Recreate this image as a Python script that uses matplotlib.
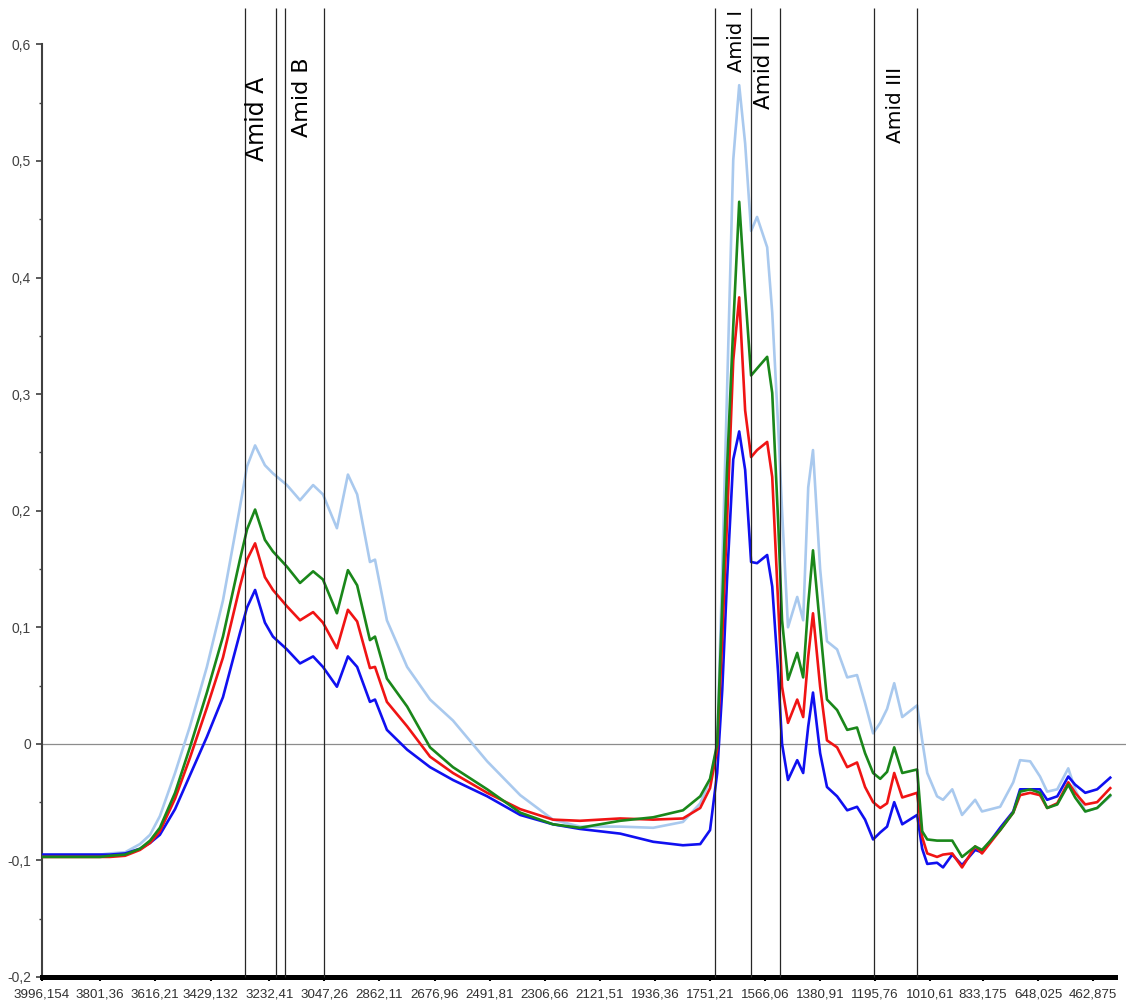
import matplotlib
matplotlib.use("Agg")
import matplotlib.pyplot as plt
from matplotlib.ticker import FixedLocator, MultipleLocator

plt.rcParams['font.family'] = ['Liberation Sans', 'DejaVu Sans']

# wavenumber, cm-1
wavenumber = [3996, 3801, 3768, 3717, 3667, 3633, 3600, 3549, 3499, 3442,
              3388, 3331, 3307, 3280, 3247, 3220, 3173, 3129, 3085, 3052,
              3005, 2968, 2937, 2894, 2877, 2837, 2769, 2692, 2615, 2500,
              2389, 2279, 2188, 2053, 1942, 1842, 1784, 1751, 1727, 1710,
              1694, 1673, 1653, 1633, 1613, 1593, 1559, 1542, 1522, 1509,
              1489, 1458, 1438, 1421, 1405, 1381, 1358, 1324, 1290, 1257,
              1230, 1203, 1179, 1156, 1132, 1105, 1055, 1038, 1021, 988,
              968, 937, 904, 860, 837, 776, 732, 709, 675, 642,
              618, 584, 547, 524, 490, 450, 406]

spec_lightblue = [-0.095, -0.095, -0.094, -0.093, -0.086, -0.078, -0.062, -0.025, 0.015, 0.066,
                  0.123, 0.203, 0.238, 0.256, 0.239, 0.232, 0.222, 0.209, 0.222, 0.214,
                  0.185, 0.231, 0.214, 0.156, 0.158, 0.106, 0.066, 0.038, 0.020, -0.015,
                  -0.044, -0.065, -0.071, -0.071, -0.072, -0.067, -0.051, -0.031, -0.002, 0.150,
                  0.301, 0.501, 0.565, 0.515, 0.440, 0.452, 0.426, 0.370, 0.272, 0.200,
                  0.100, 0.126, 0.106, 0.220, 0.252, 0.150, 0.088, 0.081, 0.057, 0.059,
                  0.035, 0.009, 0.018, 0.030, 0.052, 0.023, 0.033, 0.003, -0.025, -0.045,
                  -0.048, -0.039, -0.061, -0.048, -0.058, -0.054, -0.033, -0.014, -0.015, -0.028,
                  -0.041, -0.039, -0.021, -0.039, -0.058, -0.055, -0.045]

spec_green = [-0.097, -0.097, -0.096, -0.095, -0.090, -0.083, -0.072, -0.042, -0.003, 0.044,
              0.092, 0.158, 0.184, 0.201, 0.175, 0.165, 0.152, 0.138, 0.148, 0.141,
              0.112, 0.149, 0.136, 0.089, 0.092, 0.056, 0.032, -0.003, -0.020, -0.039,
              -0.059, -0.069, -0.072, -0.066, -0.063, -0.057, -0.045, -0.030, 0.000, 0.120,
              0.235, 0.358, 0.465, 0.387, 0.316, 0.322, 0.332, 0.301, 0.190, 0.106,
              0.055, 0.078, 0.057, 0.120, 0.166, 0.100, 0.038, 0.029, 0.012, 0.014,
              -0.008, -0.025, -0.030, -0.024, -0.003, -0.025, -0.022, -0.075, -0.082, -0.083,
              -0.083, -0.083, -0.097, -0.088, -0.091, -0.074, -0.059, -0.041, -0.039, -0.042,
              -0.055, -0.052, -0.035, -0.046, -0.058, -0.055, -0.044]

spec_red = [-0.097, -0.097, -0.097, -0.096, -0.091, -0.085, -0.075, -0.047, -0.012, 0.031,
            0.074, 0.135, 0.158, 0.172, 0.143, 0.132, 0.118, 0.106, 0.113, 0.104,
            0.082, 0.115, 0.105, 0.065, 0.066, 0.036, 0.015, -0.011, -0.025, -0.042,
            -0.056, -0.065, -0.066, -0.064, -0.065, -0.064, -0.055, -0.038, -0.005, 0.090,
            0.190, 0.329, 0.383, 0.286, 0.246, 0.252, 0.259, 0.229, 0.120, 0.049,
            0.018, 0.038, 0.023, 0.075, 0.112, 0.049, 0.003, -0.003, -0.020, -0.016,
            -0.037, -0.050, -0.055, -0.051, -0.025, -0.046, -0.042, -0.080, -0.094, -0.097,
            -0.095, -0.094, -0.106, -0.088, -0.094, -0.074, -0.059, -0.044, -0.042, -0.044,
            -0.055, -0.051, -0.033, -0.042, -0.052, -0.050, -0.038]

spec_blue = [-0.095, -0.095, -0.095, -0.094, -0.090, -0.085, -0.078, -0.056, -0.027, 0.006,
             0.040, 0.095, 0.117, 0.132, 0.104, 0.092, 0.081, 0.069, 0.075, 0.066,
             0.049, 0.075, 0.066, 0.036, 0.038, 0.012, -0.005, -0.020, -0.031, -0.045,
             -0.061, -0.069, -0.073, -0.077, -0.084, -0.087, -0.086, -0.074, -0.025, 0.046,
             0.140, 0.244, 0.268, 0.235, 0.156, 0.155, 0.162, 0.135, 0.060, 0.000,
             -0.031, -0.014, -0.025, 0.015, 0.044, -0.008, -0.037, -0.045, -0.057, -0.054,
             -0.065, -0.082, -0.076, -0.071, -0.050, -0.069, -0.061, -0.090, -0.103, -0.102,
             -0.106, -0.095, -0.104, -0.091, -0.093, -0.072, -0.058, -0.039, -0.039, -0.039,
             -0.048, -0.045, -0.028, -0.035, -0.042, -0.039, -0.029]

tick_values = [3996.154, 3801.36, 3616.21, 3429.132, 3232.41, 3047.26, 2862.11,
               2676.96, 2491.81, 2306.66, 2121.51, 1936.36, 1751.21, 1566.06,
               1380.91, 1195.76, 1010.61, 833.175, 648.025, 462.875]
tick_labels = ["3996,154", "3801,36", "3616,21", "3429,132", "3232,41", "3047,26",
               "2862,11", "2676,96", "2491,81", "2306,66", "2121,51", "1936,36",
               "1751,21", "1566,06", "1380,91", "1195,76", "1010,61", "833,175",
               "648,025", "462,875"]

# borders of the amide bands
band_edges = [3314, 3210, 3179, 3047, 1734, 1613, 1516, 1200, 1055]
band_names = ["Amid A", "Amid B", "Amid I", "Amid II", "Amid III"]
band_centers = [3273, 3122, 1663, 1569, 1129]


def main():
    fig = plt.figure(figsize=(11.26, 10.01), dpi=100)
    ax = fig.add_axes([42 / 1126, 24 / 1001, 1073 / 1126, 932.6 / 1001])

    ax.axhline(0, color='#8c8c8c', lw=0.9, xmax=1.01, clip_on=False, zorder=1)

    ax.plot(wavenumber, spec_lightblue, color='#a9c9ee', lw=1.9, zorder=2)
    ax.plot(wavenumber, spec_blue, color='#1010f0', lw=1.9, zorder=3)
    ax.plot(wavenumber, spec_red, color='#f01414', lw=1.9, zorder=4)
    ax.plot(wavenumber, spec_green, color='#1a871a', lw=1.9, zorder=5)

    ax.vlines(band_edges, -0.2, 0.6315, colors='#262626', lw=0.9,
              clip_on=False, zorder=6)

    # band captions, rotated
    label_y = [0.536, 0.555, 0.603, 0.577, 0.548]
    label_size = [17, 16, 14, 15.5, 14.5]
    for name, xc, yc, fs in zip(band_names, band_centers, label_y, label_size):
        ax.text(xc, yc, name, rotation=90, ha='center', va='center',
                fontsize=fs, family='DejaVu Sans', color='black', zorder=7)

    ax.set_xlim(3996.154, 390)
    ax.set_ylim(-0.2, 0.6)

    for side in ('top', 'right'):
        ax.spines[side].set_visible(False)
    ax.spines['left'].set_color('#404040')
    ax.spines['left'].set_linewidth(1.5)
    ax.spines['bottom'].set_color('black')
    ax.spines['bottom'].set_linewidth(3.6)

    yt = [-0.2, -0.1, 0, 0.1, 0.2, 0.3, 0.4, 0.5, 0.6]
    ax.yaxis.set_major_locator(FixedLocator(yt))
    ax.set_yticklabels([("%g" % v).replace('.', ',') for v in yt])
    ax.yaxis.set_minor_locator(MultipleLocator(0.05))
    ax.tick_params(axis='y', which='major', length=4, width=1.2, color='#404040',
                   labelsize=10, labelcolor='#404040', pad=4)
    ax.tick_params(axis='y', which='minor', length=2, width=1.0, color='#404040')

    ax.xaxis.set_major_locator(FixedLocator(tick_values))
    ax.set_xticklabels(tick_labels)
    ax.xaxis.set_minor_locator(MultipleLocator(18.515))
    ax.tick_params(axis='x', which='major', length=3, width=1.5, color='black',
                   labelsize=9.6, labelcolor='#303030', pad=5)
    ax.tick_params(axis='x', which='minor', length=2.5, width=1.2, color='black')

    fig.savefig('out.png', dpi=100)


if __name__ == '__main__':
    main()
